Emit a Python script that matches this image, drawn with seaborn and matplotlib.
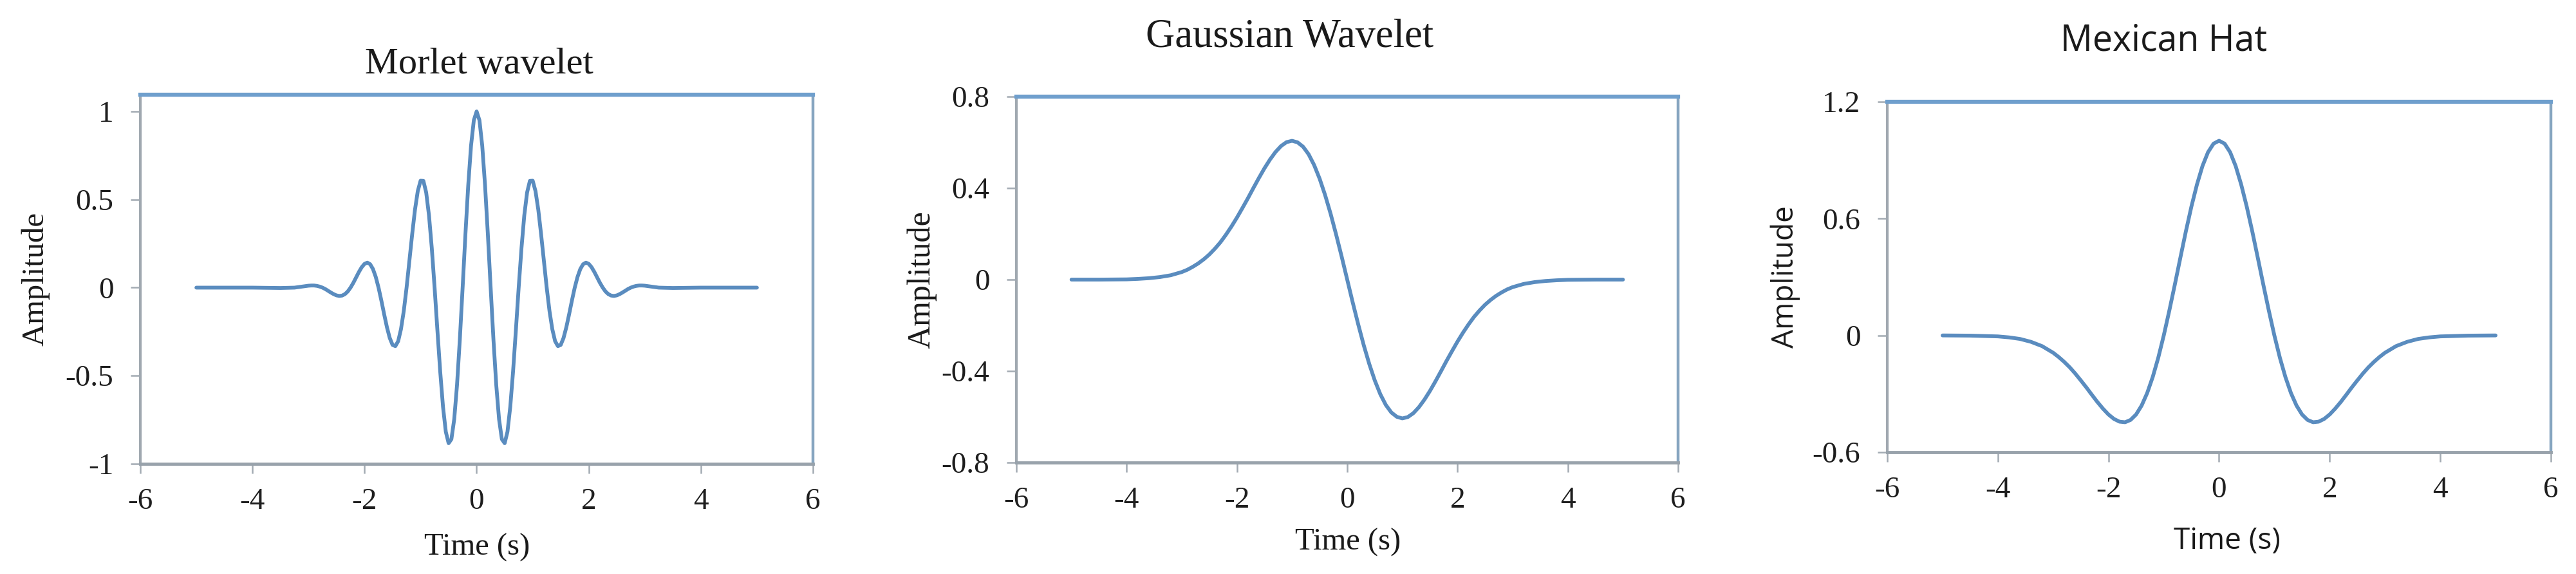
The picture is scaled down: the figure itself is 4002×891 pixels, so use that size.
import matplotlib
matplotlib.use("Agg")
import matplotlib.pyplot as plt
import seaborn as sns

# ---- data ----
morlet_time = [
    -5.0, -4.5, -4.0, -3.5, -3.25,
    -3.0, -2.95, -2.9, -2.85, -2.8, -2.75, -2.7, -2.65, -2.6, -2.55,
    -2.5, -2.45, -2.4, -2.35, -2.3, -2.25, -2.2, -2.15, -2.1, -2.05,
    -2.0, -1.95, -1.9, -1.85, -1.8, -1.75, -1.7, -1.65, -1.6, -1.55,
    -1.5, -1.45, -1.4, -1.35, -1.3, -1.25, -1.2, -1.15, -1.1, -1.05,
    -1.0, -0.95, -0.9, -0.85, -0.8, -0.75, -0.7, -0.65, -0.6, -0.55,
    -0.5, -0.45, -0.4, -0.35, -0.3, -0.25, -0.2, -0.15, -0.1, -0.05,
    0.0, 0.05, 0.1, 0.15, 0.2, 0.25, 0.3, 0.35, 0.4, 0.45,
    0.5, 0.55, 0.6, 0.65, 0.7, 0.75, 0.8, 0.85, 0.9, 0.95,
    1.0, 1.05, 1.1, 1.15, 1.2, 1.25, 1.3, 1.35, 1.4, 1.45,
    1.5, 1.55, 1.6, 1.65, 1.7, 1.75, 1.8, 1.85, 1.9, 1.95,
    2.0, 2.05, 2.1, 2.15, 2.2, 2.25, 2.3, 2.35, 2.4, 2.45,
    2.5, 2.55, 2.6, 2.65, 2.7, 2.75, 2.8, 2.85, 2.9, 2.95,
    3.0, 3.25, 3.5, 4.0, 4.5, 5.0,
]
morlet_amp = [
    0.0, 0.0, 0.0, -0.002, 0.0,
    0.011, 0.012, 0.012, 0.010, 0.006, 0.0, -0.008, -0.018, -0.028, -0.037,
    -0.044, -0.047, -0.045, -0.037, -0.022, 0.0, 0.027, 0.058, 0.089, 0.116,
    0.135, 0.142, 0.133, 0.106, 0.061, 0.0, -0.073, -0.151, -0.225, -0.286,
    -0.325, -0.332, -0.304, -0.236, -0.133, 0.0, 0.150, 0.303, 0.442, 0.548,
    0.607, 0.606, 0.540, 0.410, 0.224, 0.0, -0.242, -0.476, -0.676, -0.818,
    -0.883, -0.860, -0.747, -0.553, -0.295, 0.0, 0.303, 0.581, 0.805, 0.950,
    1.000, 0.950, 0.805, 0.581, 0.303, 0.0, -0.295, -0.553, -0.747, -0.860,
    -0.883, -0.818, -0.676, -0.476, -0.242, 0.0, 0.224, 0.410, 0.540, 0.606,
    0.607, 0.548, 0.442, 0.303, 0.150, 0.0, -0.133, -0.236, -0.304, -0.332,
    -0.325, -0.286, -0.225, -0.151, -0.073, 0.0, 0.061, 0.106, 0.133, 0.142,
    0.135, 0.116, 0.089, 0.058, 0.027, 0.0, -0.022, -0.037, -0.045, -0.047,
    -0.044, -0.037, -0.028, -0.018, -0.008, 0.0, 0.006, 0.010, 0.012, 0.012,
    0.011, 0.0, -0.002, 0.0, 0.0, 0.0,
]

smooth_time = [
    -5.0, -4.5, -4.0, -3.8, -3.6, -3.4, -3.2,
    -3.0, -2.9, -2.8, -2.7, -2.6, -2.5, -2.4, -2.3, -2.2, -2.1,
    -2.0, -1.9, -1.8, -1.7, -1.6, -1.5, -1.4, -1.3, -1.2, -1.1,
    -1.0, -0.9, -0.8, -0.7, -0.6, -0.5, -0.4, -0.3, -0.2, -0.1,
    0.0, 0.1, 0.2, 0.3, 0.4, 0.5, 0.6, 0.7, 0.8, 0.9,
    1.0, 1.1, 1.2, 1.3, 1.4, 1.5, 1.6, 1.7, 1.8, 1.9,
    2.0, 2.1, 2.2, 2.3, 2.4, 2.5, 2.6, 2.7, 2.8, 2.9,
    3.0, 3.2, 3.4, 3.6, 3.8, 4.0, 4.5, 5.0,
]
gauss_amp = [
    0.0, 0.0, 0.001, 0.003, 0.006, 0.011, 0.019,
    0.033, 0.043, 0.056, 0.071, 0.089, 0.110, 0.135, 0.163, 0.196, 0.232,
    0.271, 0.313, 0.356, 0.401, 0.445, 0.487, 0.525, 0.558, 0.584, 0.601,
    0.607, 0.600, 0.581, 0.548, 0.501, 0.441, 0.369, 0.287, 0.196, 0.100,
    0.0, -0.100, -0.196, -0.287, -0.369, -0.441, -0.501, -0.548, -0.581, -0.600,
    -0.607, -0.601, -0.584, -0.558, -0.525, -0.487, -0.445, -0.401, -0.356, -0.313,
    -0.271, -0.232, -0.196, -0.163, -0.135, -0.110, -0.089, -0.071, -0.056, -0.043,
    -0.033, -0.019, -0.011, -0.006, -0.003, -0.001, 0.0, 0.0,
]
hat_amp = [
    0.0, -0.001, -0.005, -0.010, -0.018, -0.033, -0.055,
    -0.089, -0.111, -0.136, -0.164, -0.196, -0.231, -0.267, -0.305, -0.342, -0.376,
    -0.406, -0.429, -0.443, -0.446, -0.434, -0.406, -0.360, -0.296, -0.214, -0.115,
    0.0, 0.127, 0.261, 0.399, 0.535, 0.662, 0.775, 0.870, 0.941, 0.985,
    1.000, 0.985, 0.941, 0.870, 0.775, 0.662, 0.535, 0.399, 0.261, 0.127,
    0.0, -0.115, -0.214, -0.296, -0.360, -0.406, -0.434, -0.446, -0.443, -0.429,
    -0.406, -0.376, -0.342, -0.305, -0.267, -0.231, -0.196, -0.164, -0.136, -0.111,
    -0.089, -0.055, -0.033, -0.018, -0.010, -0.005, -0.001, 0.0,
]

x_ticks = [-6, -4, -2, 0, 2, 4, 6]
x_tick_labels = ["-6", "-4", "-2", "0", "2", "4", "6"]
morlet_yticks = [-1, -0.5, 0, 0.5, 1]
morlet_ylabels = ["-1", "-0.5", "0", "0.5", "1"]
gauss_yticks = [-0.8, -0.4, 0, 0.4, 0.8]
gauss_ylabels = ["-0.8", "-0.4", "0", "0.4", "0.8"]
hat_yticks = [-0.6, 0, 0.6, 1.2]
hat_ylabels = ["-0.6", "0", "0.6", "1.2"]

LINE = "#5a8cbf"
SERIF = ["Liberation Serif", "DejaVu Serif"]
SANS = ["Open Sans", "DejaVu Sans"]

sns.set_style("white")
plt.rcParams["font.family"] = SERIF
plt.rcParams["axes.unicode_minus"] = False

fig = plt.figure(figsize=(40.02, 8.91), dpi=100)
fig.patch.set_facecolor("white")


def style_panel(ax, ylim, yticks, ylabels):
    ax.set_xlim(-6, 6)
    ax.set_ylim(*ylim)
    ax.set_xticks(x_ticks)
    ax.set_xticklabels(x_tick_labels, fontsize=34, family=SERIF, color="#1e1e1e")
    ax.set_yticks(yticks)
    ax.set_yticklabels(ylabels, fontsize=34, family=SERIF, color="#1e1e1e")
    ax.tick_params(axis="both", direction="out", length=11, width=1.8,
                   color="#a3abb3", left=True, bottom=True)
    ax.tick_params(axis="x", pad=16)
    ax.tick_params(axis="y", pad=19)
    ax.spines["top"].set_color("#6f9fcd")
    ax.spines["top"].set_linewidth(4.5)
    ax.spines["right"].set_color("#86a5c0")
    ax.spines["right"].set_linewidth(3.2)
    ax.spines["left"].set_color("#a0a8b0")
    ax.spines["left"].set_linewidth(3.0)
    ax.spines["bottom"].set_color("#98a2ab")
    ax.spines["bottom"].set_linewidth(3.5)
    for s in ax.spines.values():
        s.set_visible(True)


# Morlet wavelet
ax1 = fig.add_axes([0.05447, 0.19192, 0.26112, 0.64310])
sns.lineplot(x=morlet_time, y=morlet_amp, ax=ax1, color=LINE, linewidth=4.2)
style_panel(ax1, (-1, 1.095), morlet_yticks, morlet_ylabels)
ax1.set_title("Morlet wavelet", fontsize=42, family=SERIF, color="#1a1a1a",
              x=0.5033, y=1.0576, pad=0)
ax1.set_xlabel("Time (s)", fontsize=35, family=SERIF, color="#1a1a1a", va="center")
ax1.xaxis.set_label_coords(0.5005, -0.227)
ax1.set_ylabel("Amplitude", fontsize=35, family=SERIF, color="#1a1a1a", va="center")
ax1.yaxis.set_label_coords(-0.156, 0.5)

# Gaussian wavelet
ax2 = fig.add_axes([0.39455, 0.19416, 0.25687, 0.63749])
sns.lineplot(x=smooth_time, y=gauss_amp, ax=ax2, color=LINE, linewidth=4.2)
style_panel(ax2, (-0.8, 0.8), gauss_yticks, gauss_ylabels)
ax2.set_title("Gaussian Wavelet", fontsize=45, family=SERIF, color="#1a1a1a",
              x=0.4134, y=1.1356, pad=0)
ax2.set_xlabel("Time (s)", fontsize=35, family=SERIF, color="#1a1a1a", va="center")
ax2.xaxis.set_label_coords(0.501, -0.218)
ax2.set_ylabel("Amplitude", fontsize=36, family=SERIF, color="#1a1a1a", va="center")
ax2.yaxis.set_label_coords(-0.143, 0.5)

# Mexican hat
ax3 = fig.add_axes([0.73263, 0.21212, 0.25762, 0.61055])
sns.lineplot(x=smooth_time, y=hat_amp, ax=ax3, color=LINE, linewidth=4.2)
style_panel(ax3, (-0.6, 1.2), hat_yticks, hat_ylabels)
ax3.set_title("Mexican Hat", fontsize=40, family=SANS, color="#1a1a1a",
              x=0.4171, y=1.1468, pad=0)
ax3.set_xlabel("Time (s)", fontsize=33, family=SANS, color="#1a1a1a", va="center")
ax3.xaxis.set_label_coords(0.512, -0.253)
ax3.set_ylabel("Amplitude", fontsize=33, family=SANS, color="#1a1a1a", va="center")
ax3.yaxis.set_label_coords(-0.153, 0.5)

fig.savefig("out.png", dpi=100, facecolor="white")
plt.close(fig)
